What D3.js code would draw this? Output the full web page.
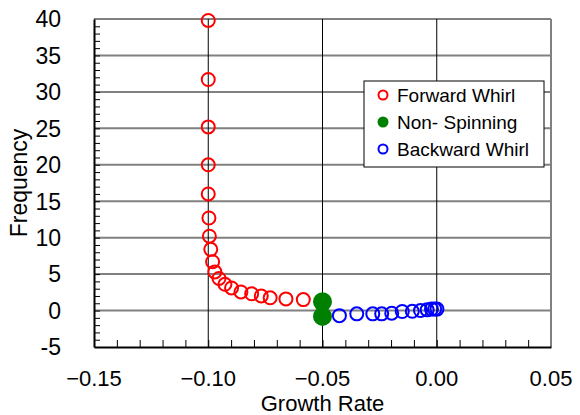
<!DOCTYPE html>
<html>
<head>
<meta charset="utf-8">
<script src="https://cdn.jsdelivr.net/npm/d3@7"></script>
<style>
  body { margin: 0; background: #fff; }
  text { font-family: Arial, "Liberation Sans", sans-serif; }
</style>
</head>
<body>
<svg id="chart" width="580" height="415"></svg>
<script>
// values
var fwdX = [-0.100, -0.100, -0.100, -0.100, -0.100, -0.0997, -0.0995, -0.0989, -0.0981, -0.0971,
            -0.0953, -0.0927, -0.0898, -0.0857, -0.0810, -0.0768, -0.0729, -0.0660, -0.0584];
var fwdY = [39.8, 31.7, 25.2, 20.0, 16.0, 12.7, 10.2, 8.4, 6.7, 5.3,
            4.4, 3.6, 3.1, 2.55, 2.3, 2.0, 1.75, 1.6, 1.5];
var nonX = [-0.050, -0.050];
var nonY = [1.2, -0.8];
var bwdX = [-0.0426, -0.0350, -0.0280, -0.0241, -0.0197, -0.0151, -0.0107, -0.0071, -0.0042, -0.0023, -0.0009, 0.0001];
var bwdY = [-0.7, -0.45, -0.45, -0.45, -0.36, -0.13, -0.1, 0.0, 0.1, 0.2, 0.2, 0.2];

var xTicks = [-0.15, -0.10, -0.05, 0.00, 0.05];
var yTicks = [-5, 0, 5, 10, 15, 20, 25, 30, 35, 40];
var legendLabels = ["Forward Whirl", "Non- Spinning", "Backward Whirl"];

var svg = d3.select("#chart"),
    margin = {top: 19, right: 29, bottom: 68, left: 94},
    width = +svg.attr("width") - margin.left - margin.right,
    height = +svg.attr("height") - margin.top - margin.bottom;

var x = d3.scaleLinear().domain([-0.15, 0.05]).range([0, width]),
    y = d3.scaleLinear().domain([-5, 40]).range([height, 0]);

var g = svg.append("g")
    .attr("transform", "translate(" + margin.left + "," + margin.top + ")");

// horizontal gray grid
g.selectAll(".hgrid")
  .data(yTicks.filter(function(d) { return d > -5; }))
  .enter().append("line")
    .attr("x1", 0).attr("x2", width)
    .attr("y1", function(d) { return y(d); })
    .attr("y2", function(d) { return y(d); })
    .attr("stroke", "#808080")
    .attr("stroke-width", 2);

// right border gray
g.append("line")
    .attr("x1", width).attr("x2", width)
    .attr("y1", 0).attr("y2", height)
    .attr("stroke", "#808080").attr("stroke-width", 2);

// vertical black grid
g.selectAll(".vgrid")
  .data(xTicks.filter(function(d) { return d > -0.15 && d < 0.05; }))
  .enter().append("line")
    .attr("x1", function(d) { return x(d); })
    .attr("x2", function(d) { return x(d); })
    .attr("y1", 0).attr("y2", height)
    .attr("stroke", "#000")
    .attr("stroke-width", 1);

// axes with inward minor ticks
var xAxis = g.append("g")
    .attr("transform", "translate(0," + height + ")")
    .call(d3.axisBottom(x).tickValues(d3.range(-14, 5).map(function(i) { return i / 100; }))
      .tickSizeInner(-7).tickSizeOuter(0).tickFormat(""));
xAxis.select(".domain").attr("stroke-width", 2);

var yAxis = g.append("g")
    .call(d3.axisLeft(y).tickValues(d3.range(-4, 40))
      .tickSizeInner(-6).tickSizeOuter(0).tickFormat(""));
yAxis.select(".domain").attr("stroke-width", 2);

// tick labels
g.selectAll(".xlab")
  .data(xTicks)
  .enter().append("text")
    .attr("x", function(d) { return x(d); })
    .attr("y", height + 39)
    .attr("text-anchor", "middle")
    .style("font-size", "22px")
    .text(function(d) { return d3.format(".2f")(d); });

g.selectAll(".ylab")
  .data(yTicks)
  .enter().append("text")
    .attr("x", -33)
    .attr("y", function(d) { return y(d); })
    .attr("dy", "0.36em")
    .attr("text-anchor", "end")
    .style("font-size", "23px")
    .text(function(d) { return d; });

// axis titles
g.append("text")
    .attr("x", width / 2)
    .attr("y", height + 63.5)
    .attr("text-anchor", "middle")
    .style("font-size", "22px")
    .text("Growth Rate");

g.append("text")
    .attr("transform", "translate(-67," + (height / 2) + ") rotate(-90)")
    .attr("text-anchor", "middle")
    .style("font-size", "23px")
    .text("Frequency");

// points
function drawSeries(xs, ys, color, filled, r) {
  g.selectAll(null)
    .data(xs.map(function(v, i) { return [v, ys[i]]; }))
    .enter().append("circle")
      .attr("cx", function(d) { return x(d[0]); })
      .attr("cy", function(d) { return y(d[1]); })
      .attr("r", r)
      .attr("fill", filled ? color : "#fff")
      .attr("fill-opacity", filled ? 1 : 0)
      .attr("stroke", color)
      .attr("stroke-width", filled ? 0 : 2);
}
drawSeries(fwdX, fwdY, "#ff0000", false, 6.5);
drawSeries(bwdX, bwdY, "#0000ff", false, 6.5);
drawSeries(nonX, nonY, "#008000", true, 9.5);

// legend
var legend = svg.append("g").attr("transform", "translate(364,81)");
legend.append("rect")
    .attr("width", 180).attr("height", 86)
    .attr("fill", "#fff").attr("stroke", "#000").attr("stroke-width", 1);

var legendColors = ["#ff0000", "#008000", "#0000ff"];
legendLabels.forEach(function(lab, i) {
  var row = legend.append("g").attr("transform", "translate(0," + (14 + i * 27) + ")");
  row.append("circle")
      .attr("cx", 19).attr("cy", 0).attr("r", i == 1 ? 5.5 : 4.5)
      .attr("fill", i == 1 ? legendColors[i] : "#fff")
      .attr("stroke", legendColors[i])
      .attr("stroke-width", i == 1 ? 0 : 2);
  row.append("text")
      .attr("x", 33).attr("y", 0).attr("dy", "0.36em")
      .style("font-size", "19px")
      .text(lab);
});
</script>
</body>
</html>
